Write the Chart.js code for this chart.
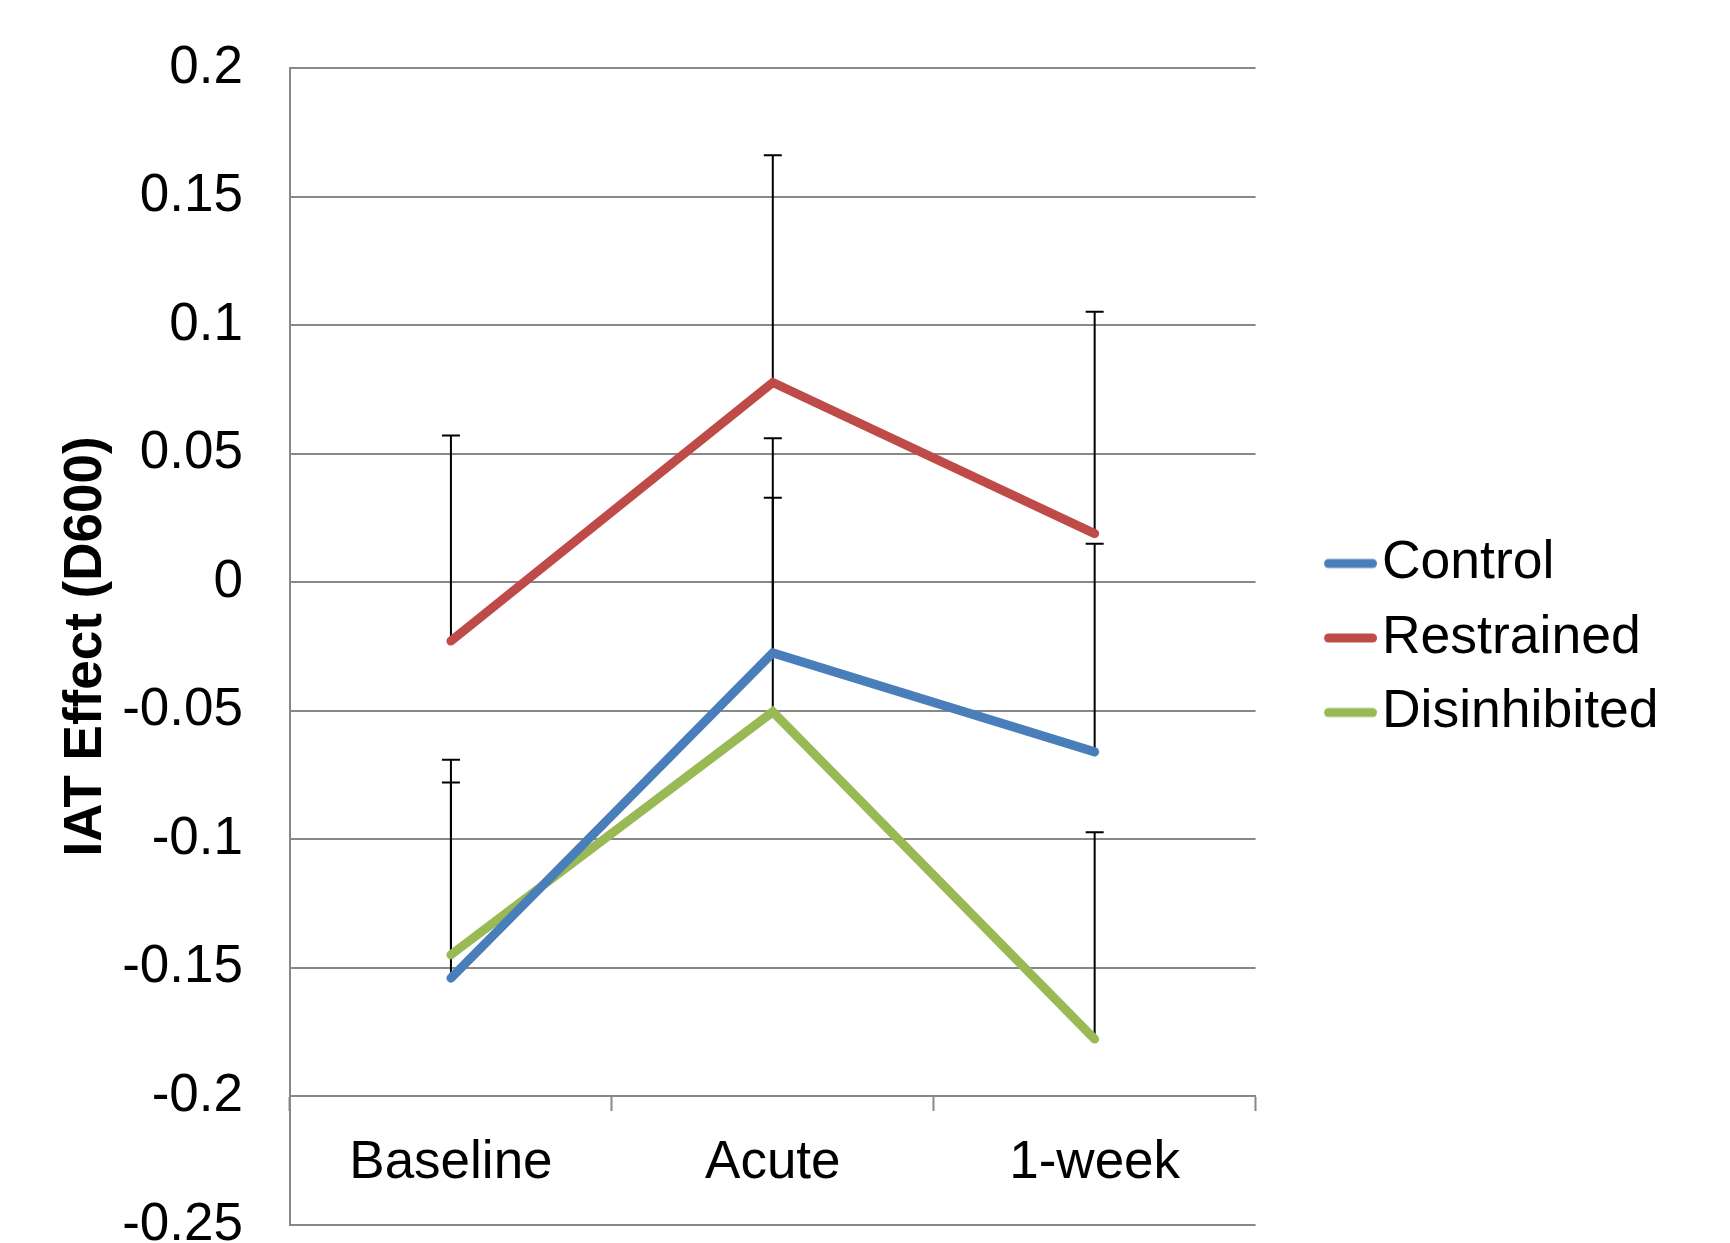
<!DOCTYPE html>
<html lang="en">
<head>
<meta charset="UTF-8">
<title>IAT Effect</title>
<script src="https://cdn.jsdelivr.net/npm/chart.js@4.4.0/dist/chart.umd.min.js"></script>
<style>
  html, body { margin: 0; padding: 0; background: #fff; }
</style>
</head>
<body>
<canvas id="chart" width="1730" height="1243"></canvas>
<script>
const categories = ['Baseline', 'Acute', '1-week'];
const seriesNames = ['Control', 'Restrained', 'Disinhibited'];
const seriesColors = ['#4A7EBB', '#BE4B48', '#98B954'];

const controlVals = [-0.154, -0.0275, -0.066];
const restrainedVals = [-0.0229, 0.0777, 0.0189];
const disinhibitedVals = [-0.1449, -0.0504, -0.1777];

// only the plus side of the error bars is shown
const controlErr = [0.085, 0.0835, 0.081];
const restrainedErr = [0.080, 0.0884, 0.0863];
const disinhibitedErr = [0.067, 0.0833, 0.0805];

const yMin = -0.25, yMax = 0.2, yStep = 0.05;

const grey = '#888888';
Chart.defaults.font.family = "'Liberation Sans', Arial, sans-serif";
Chart.defaults.color = '#000';

// legend sample: short thick line sitting right next to the text
function legendSample(color) {
    const c = document.createElement('canvas');
    c.width = 132; c.height = 20;
    const g = c.getContext('2d');
    g.strokeStyle = color;
    g.lineWidth = 9;
    g.lineCap = 'round';
    g.beginPath();
    g.moveTo(78.6, 10);
    g.lineTo(122.6, 10);
    g.stroke();
    return c;
}

const errorBars = {
    id: 'errorBars',
    beforeDatasetsDraw(chart) {
        const ctx = chart.ctx;
        const xs = chart.scales.x, ys = chart.scales.y;
        ctx.save();
        ctx.strokeStyle = '#000';
        ctx.lineWidth = 2;
        chart.data.datasets.forEach(ds => {
            ds.errPlus.forEach((e, j) => {
                const px = xs.getPixelForValue(j);
                const y0 = ys.getPixelForValue(ds.data[j]);
                const y1 = ys.getPixelForValue(ds.data[j] + e);
                ctx.beginPath();
                ctx.moveTo(px, y0);
                ctx.lineTo(px, y1);
                ctx.moveTo(px - 9, y1);
                ctx.lineTo(px + 9, y1);
                ctx.stroke();
            });
        });
        ctx.restore();
    }
};

function makeSet(i, vals, errs) {
    return {
        label: seriesNames[i],
        data: vals,
        errPlus: errs,
        borderColor: seriesColors[i],
        backgroundColor: seriesColors[i],
        borderWidth: 9,
        borderCapStyle: 'round',
        borderJoinStyle: 'miter',
        pointRadius: 0,
        pointHoverRadius: 0,
        pointStyle: legendSample(seriesColors[i]),
        tension: 0,
        fill: false
    };
}

new Chart(document.getElementById('chart'), {
    type: 'line',
    data: {
        labels: categories,
        datasets: [
            makeSet(0, controlVals, controlErr),
            makeSet(1, restrainedVals, restrainedErr),
            makeSet(2, disinhibitedVals, disinhibitedErr)
        ]
    },
    plugins: [errorBars],
    options: {
        responsive: false,
        animation: false,
        layout: { padding: { top: 51, bottom: 18, left: 0, right: 61.5 } },
        plugins: {
            tooltip: { enabled: false },
            legend: {
                position: 'right',
                align: 'center',
                labels: {
                    usePointStyle: true,
                    pointStyleWidth: 78.6,
                    padding: 21,
                    color: '#000',
                    font: { size: 53.5 }
                }
            }
        },
        scales: {
            x: {
                type: 'category',
                position: { y: -0.2 },
                offset: true,
                grid: {
                    offset: true,
                    drawOnChartArea: false,
                    drawTicks: true,
                    tickLength: 14,
                    tickWidth: 2,
                    tickColor: grey
                },
                border: { color: grey, width: 2 },
                ticks: {
                    padding: 21,
                    maxRotation: 0,
                    font: { size: 53, lineHeight: 1.2 },
                    color: '#000'
                },
                afterFit(scale) {
                    scale.paddingLeft = 0;
                    scale.paddingRight = 0;
                }
            },
            y: {
                min: yMin,
                max: yMax,
                grid: { color: grey, lineWidth: 2, drawTicks: false },
                border: { color: grey, width: 2 },
                ticks: {
                    stepSize: yStep,
                    padding: 47,
                    font: { size: 53, lineHeight: 1.2 },
                    color: '#000',
                    callback: v => String(+v.toFixed(2))
                },
                title: {
                    display: true,
                    text: 'IAT Effect (D600)',
                    color: '#000',
                    font: { size: 53, weight: 'bold', lineHeight: 1.2 },
                    padding: { top: 55, bottom: 0 }
                },
                afterFit(scale) {
                    scale.width = 290;
                    scale.paddingTop = 68;
                    scale.paddingBottom = 0;
                }
            }
        }
    }
});
</script>
</body>
</html>
